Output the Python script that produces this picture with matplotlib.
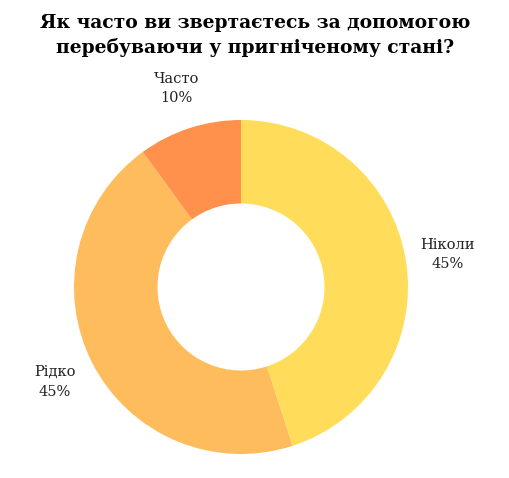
import matplotlib
matplotlib.use("Agg")
import matplotlib.pyplot as plt

categories = ["Ніколи", "Рідко", "Часто"]
values = [45, 45, 10]
colors = ["#FFDD5A", "#FFBC5C", "#FF914D"]

plt.rcParams['font.family'] = ['DejaVu Serif']
fig = plt.figure(figsize=(5.10, 4.78), dpi=100)
ax = fig.add_axes([74/510, 24/478, 334/510, 334/478])
wedges, _ = ax.pie(values, colors=colors, startangle=90, counterclock=False,
                   radius=1.0, wedgeprops=dict(width=0.5, edgecolor='white', linewidth=0))
ax.set_xlim(-1, 1); ax.set_ylim(-1, 1)
ax.set_aspect('equal')
import numpy as np
for w, c, v in zip(wedges, categories, values):
    ang = np.deg2rad((w.theta1 + w.theta2) / 2)
    r = 1.25
    ax.text(r*np.cos(ang), r*np.sin(ang), f"{c}\n{v}%", ha='center', va='center',
            fontsize=10.5, color='#222222', linespacing=1.5)
fig.text(0.5, 0.925, "Як часто ви звертаєтесь за допомогою\nперебуваючи у пригніченому стані?",
         ha='center', va='center', fontsize=13.5, fontweight='bold', linespacing=1.4)
fig.savefig("out.png", dpi=100)
